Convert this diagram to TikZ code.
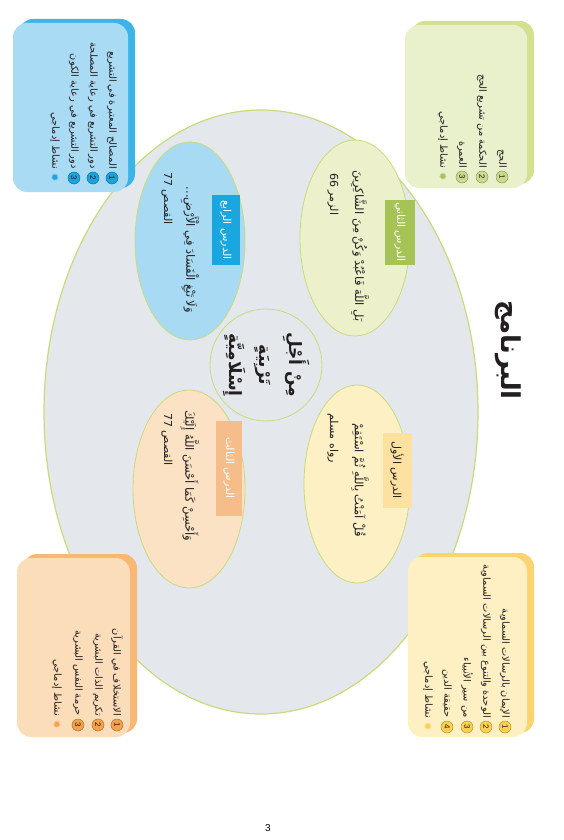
\documentclass[tikz,border=0pt]{standalone}
\usepackage{fontspec}
\setmainfont{Liberation Sans}
\newfontfamily\arabicfont[Script=Arabic]{DejaVu Sans}
\newfontfamily\symbolfont{DejaVu Sans}
\TeXXeTstate=1
\usetikzlibrary{positioning}
\definecolor{bigoval}{HTML}{E4E7EB}
\definecolor{rimgreen}{HTML}{C8DB7A}
\definecolor{cardgreen}{HTML}{E9F0CC}
\definecolor{backgreen}{HTML}{D2E08F}
\definecolor{tabgreen}{HTML}{A6C456}
\definecolor{ovalgreen}{HTML}{EDF1CB}
\definecolor{badgegreen}{HTML}{C9DB8C}
\definecolor{cardyellow}{HTML}{FEF0C3}
\definecolor{backyellow}{HTML}{F9D470}
\definecolor{tabyellow}{HTML}{FDE1A0}
\definecolor{ovalyellow}{HTML}{FCF0C4}
\definecolor{badgeyellow}{HTML}{FAD04E}
\definecolor{cardblue}{HTML}{A9DCF4}
\definecolor{backblue}{HTML}{3CB4E8}
\definecolor{tabblue}{HTML}{1AA7E0}
\definecolor{ovalblue}{HTML}{A8DBF3}
\definecolor{badgeblue}{HTML}{1BA3DC}
\definecolor{cardorange}{HTML}{FCDDBA}
\definecolor{backorange}{HTML}{F8B773}
\definecolor{taborange}{HTML}{F6BD8B}
\definecolor{ovalorange}{HTML}{FCE2C4}
\definecolor{badgeorange}{HTML}{F4A24A}
\definecolor{inkdark}{HTML}{231F20}
\newcommand{\artext}[1]{{\arabicfont\beginR #1\endR}}
\newcommand{\starmark}{{\symbolfont ✹}}

\begin{document}
\begin{tikzpicture}[x=1pt, y=-1pt,
    lessonoval/.style={draw=rimgreen, line width=0.8pt},
    tabbox/.style={rotate=-90, inner sep=0pt, font=\fontsize{11}{13}\selectfont, text=white},
    badge/.style={circle, rotate=-90, inner sep=0pt, minimum size=12pt, draw=#1!70!black, fill=#1, line width=0.5pt, font=\fontsize{8}{9}\selectfont, text=inkdark},
    starbadge/.style={rotate=-90, inner sep=0pt, font=\fontsize{10}{10}\selectfont, text=#1},
    itemtext/.style={rotate=-90, anchor=east, inner sep=0pt, font=\fontsize{9.8}{12}\selectfont, text=inkdark},
    quote/.style={rotate=-90, inner sep=0pt, font=\fontsize{11.5}{14}\selectfont, text=inkdark},
    source/.style={rotate=-90, anchor=west, inner sep=0pt, font=\fontsize{11}{13}\selectfont, text=inkdark}]
  \useasboundingbox (0,0) rectangle (563,840);

  % main oval and lessons
  \draw[fill=bigoval, draw=rimgreen, line width=1.2pt] (261,412) ellipse [x radius=217, y radius=302];
  \draw[lessonoval, fill=ovalgreen] (355,238) ellipse [x radius=55, y radius=98];
  \draw[lessonoval, fill=ovalyellow] (357,484) ellipse [x radius=53, y radius=99];
  \draw[lessonoval, fill=ovalblue] (190,241) ellipse [x radius=55, y radius=99];
  \draw[lessonoval, fill=ovalorange] (189,489) ellipse [x radius=56, y radius=99];
  \draw[lessonoval, fill=bigoval] (266,365) circle [radius=56];

  \node[tabbox, fill=tabgreen, minimum width=65pt, minimum height=30pt] (tab2) at (400,232) {\artext{الدرس الثاني}};
  \node[tabbox, fill=tabyellow, minimum width=75pt, minimum height=29pt, text=inkdark] (tab1) at (397,470) {\artext{الدرس الأول}};
  \node[tabbox, fill=tabblue, minimum width=70pt, minimum height=28pt] (tab4) at (226,230) {\artext{الدرس الرابع}};
  \node[tabbox, fill=taborange, minimum width=95pt, minimum height=26pt] (tab3) at (229,468) {\artext{الدرس الثالث}};

  \node[quote] (q2) at (360,246) {\artext{بَلِ اللَّهَ فَاعْبُدْ وَكُنْ مِنَ الشَّاكِرِينَ}};
  \node[source] (s2) at (333,173) {\artext{الزمر 66}};
  \node[quote] (q1) at (360,480) {\artext{قُلْ آمَنْتُ بِاللَّهِ ثُمَّ اسْتَقِمْ}};
  \node[source] (s1) at (333,413) {\artext{رواه مسلم}};
  \node[quote] (q4) at (190,250) {\artext{وَلَا تَبْغِ الْفَسَادَ فِي الْأَرْضِ...}};
  \node[source] (s4) at (167,172) {\artext{القصص 77}};
  \node[quote] (q3) at (190,476) {\artext{وَأَحْسِنْ كَمَا أَحْسَنَ اللَّهُ إِلَيْكَ}};
  \node[source] (s3) at (167,413) {\artext{القصص 77}};

  \node[rotate=-90, align=center, font=\bfseries\fontsize{17}{30}\selectfont, text=inkdark] (core) at (266,365)
    {\artext{مِنْ أَجْلِ}\\\artext{تَرْبِيَةٍ}\\\artext{إِسْلَامِيَّةٍ}};

  % cards
  \fill[backgreen, rounded corners=14pt] (411,21) rectangle (534,184);
  \fill[cardgreen, rounded corners=14pt] (405,25) rectangle (527,188);
  \fill[backyellow, rounded corners=14pt] (414,553) rectangle (534,733);
  \fill[cardyellow, rounded corners=14pt] (408,557) rectangle (527,737);
  \fill[backblue, rounded corners=14pt] (19,19) rectangle (135,188);
  \fill[cardblue, rounded corners=14pt] (13,23) rectangle (128,192);
  \fill[backorange, rounded corners=14pt] (23,554) rectangle (137,733);
  \fill[cardorange, rounded corners=14pt] (17,558) rectangle (130,737);

  \foreach \n/\x/\t in {1/502/الحج, 2/482/الحكمة من تشريع الحج, 3/462/العمرة} {
    \node[badge=badgegreen] (g\n) at (\x,177) {\n};
    \node[itemtext] (gt\n) at (\x,168) {\artext{\t}};
  }
  \node[starbadge=tabgreen] (g4) at (443,177) {\starmark};
  \node[itemtext] (gt4) at (443,168) {\artext{نشاط إدماجي}};

  \foreach \n/\x/\t in {1/505/الإيمان بالرسالات السماوية, 2/486/الوحدة والتنوع بين الرسالات السماوية, 3/467/من سير الأنبياء, 4/447/حقيقة الدين} {
    \node[badge=badgeyellow] (y\n) at (\x,727) {\n};
    \node[itemtext] (yt\n) at (\x,718) {\artext{\t}};
  }
  \node[starbadge=badgeyellow] (y5) at (428,727) {\starmark};
  \node[itemtext] (yt5) at (428,718) {\artext{نشاط إدماجي}};

  \foreach \n/\x/\t in {1/112/المصالح المعتبرة في التشريع, 2/93/دور التشريع في رعاية المصلحة, 3/74/دور التشريع في رعاية الكون} {
    \node[badge=badgeblue] (b\n) at (\x,178) {\n};
    \node[itemtext] (bt\n) at (\x,169) {\artext{\t}};
  }
  \node[starbadge=badgeblue] (b4) at (55,178) {\starmark};
  \node[itemtext] (bt4) at (55,169) {\artext{نشاط إدماجي}};

  \foreach \n/\x/\t in {1/117/الاستخلاف في القرآن, 2/98/تكريم الذات البشرية, 3/78/حرمة النفس البشرية} {
    \node[badge=badgeorange] (o\n) at (\x,725) {\n};
    \node[itemtext] (ot\n) at (\x,716) {\artext{\t}};
  }
  \node[starbadge=badgeorange] (o4) at (57,725) {\starmark};
  \node[itemtext] (ot4) at (57,716) {\artext{نشاط إدماجي}};

  % title and page number
  \node[rotate=-90, font=\bfseries\fontsize{26}{30}\selectfont, text=inkdark] (title) at (508,350) {\artext{البرنامج}};
  \node[font=\fontsize{10}{12}\selectfont] (page) at (268,828) {3};
\end{tikzpicture}
\end{document}
